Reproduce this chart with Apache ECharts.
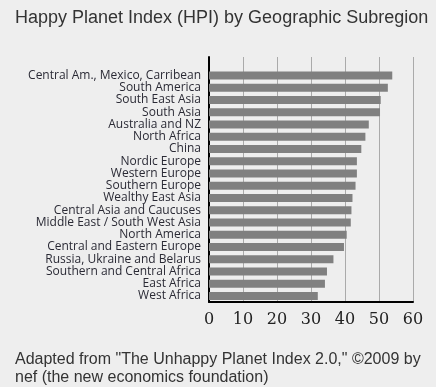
<!DOCTYPE html>
<html>
<head>
<meta charset="utf-8">
<script src="https://cdn.jsdelivr.net/npm/echarts@6/dist/echarts.min.js"></script>
<style>
html,body{margin:0;padding:0;background:#eeeeee;}
#chart{width:436px;height:387px;}
</style>
</head>
<body>
<div id="chart"></div>
<script>
// Categories listed bottom to top
const categories = [
  'West Africa',
  'East Africa',
  'Southern and Central Africa',
  'Russia, Ukraine and Belarus',
  'Central and Eastern Europe',
  'North America',
  'Middle East / South West Asia',
  'Central Asia and Caucuses',
  'Wealthy East Asia',
  'Southern Europe',
  'Western Europe',
  'Nordic Europe',
  'China',
  'North Africa',
  'Australia and NZ',
  'South Asia',
  'South East Asia',
  'South America',
  'Central Am., Mexico, Carribean'
];
const hpiValues = [32.0, 34.1, 34.7, 36.6, 39.7, 40.5, 41.7, 41.9, 42.2, 43.1, 43.5, 43.5, 44.8, 46.0, 47.0, 50.3, 50.5, 52.6, 53.9];
const xTicks = [0, 10, 20, 30, 40, 50, 60];

const chart = echarts.init(document.getElementById('chart'));
chart.setOption({
  backgroundColor: '#eeeeee',
  animation: false,
  title: [
    {
      text: 'Happy Planet Index (HPI) by Geographic Subregion',
      left: 10, top: 4,
      textStyle: {fontFamily: 'Liberation Sans', fontSize: 18, fontWeight: 'normal', color: '#333'}
    },
    {
      text: 'Adapted from "The Unhappy Planet Index 2.0," ©2009 by\nnef (the new economics foundation)',
      left: 10, top: 346,
      textStyle: {fontFamily: 'Liberation Sans', fontSize: 16, fontWeight: 'normal', color: '#333', lineHeight: 18}
    }
  ],
  grid: {left: 209, right: 23, top: 57, bottom: 85, containLabel: false},
  xAxis: {
    type: 'value',
    min: xTicks[0], max: xTicks[xTicks.length - 1], interval: 10,
    axisLine: {show: true, onZero: false, lineStyle: {color: '#000', width: 2}},
    axisTick: {show: false},
    splitLine: {show: true, lineStyle: {color: '#aaaaaa', width: 1}},
    axisLabel: {fontFamily: 'DejaVu Serif', fontSize: 16, color: '#222', margin: 10}
  },
  yAxis: {
    type: 'category',
    data: categories,
    max: categories.length,
    axisLine: {show: true, lineStyle: {color: '#000', width: 2}},
    axisTick: {show: false},
    axisLabel: {fontFamily: 'Open Sans', fontSize: 12, color: '#2a2a35', margin: 8, interval: 0}
  },
  series: [{
    type: 'bar',
    data: hpiValues,
    barWidth: 8,
    itemStyle: {color: '#808080'},
    silent: true
  }]
});
</script>
</body>
</html>
